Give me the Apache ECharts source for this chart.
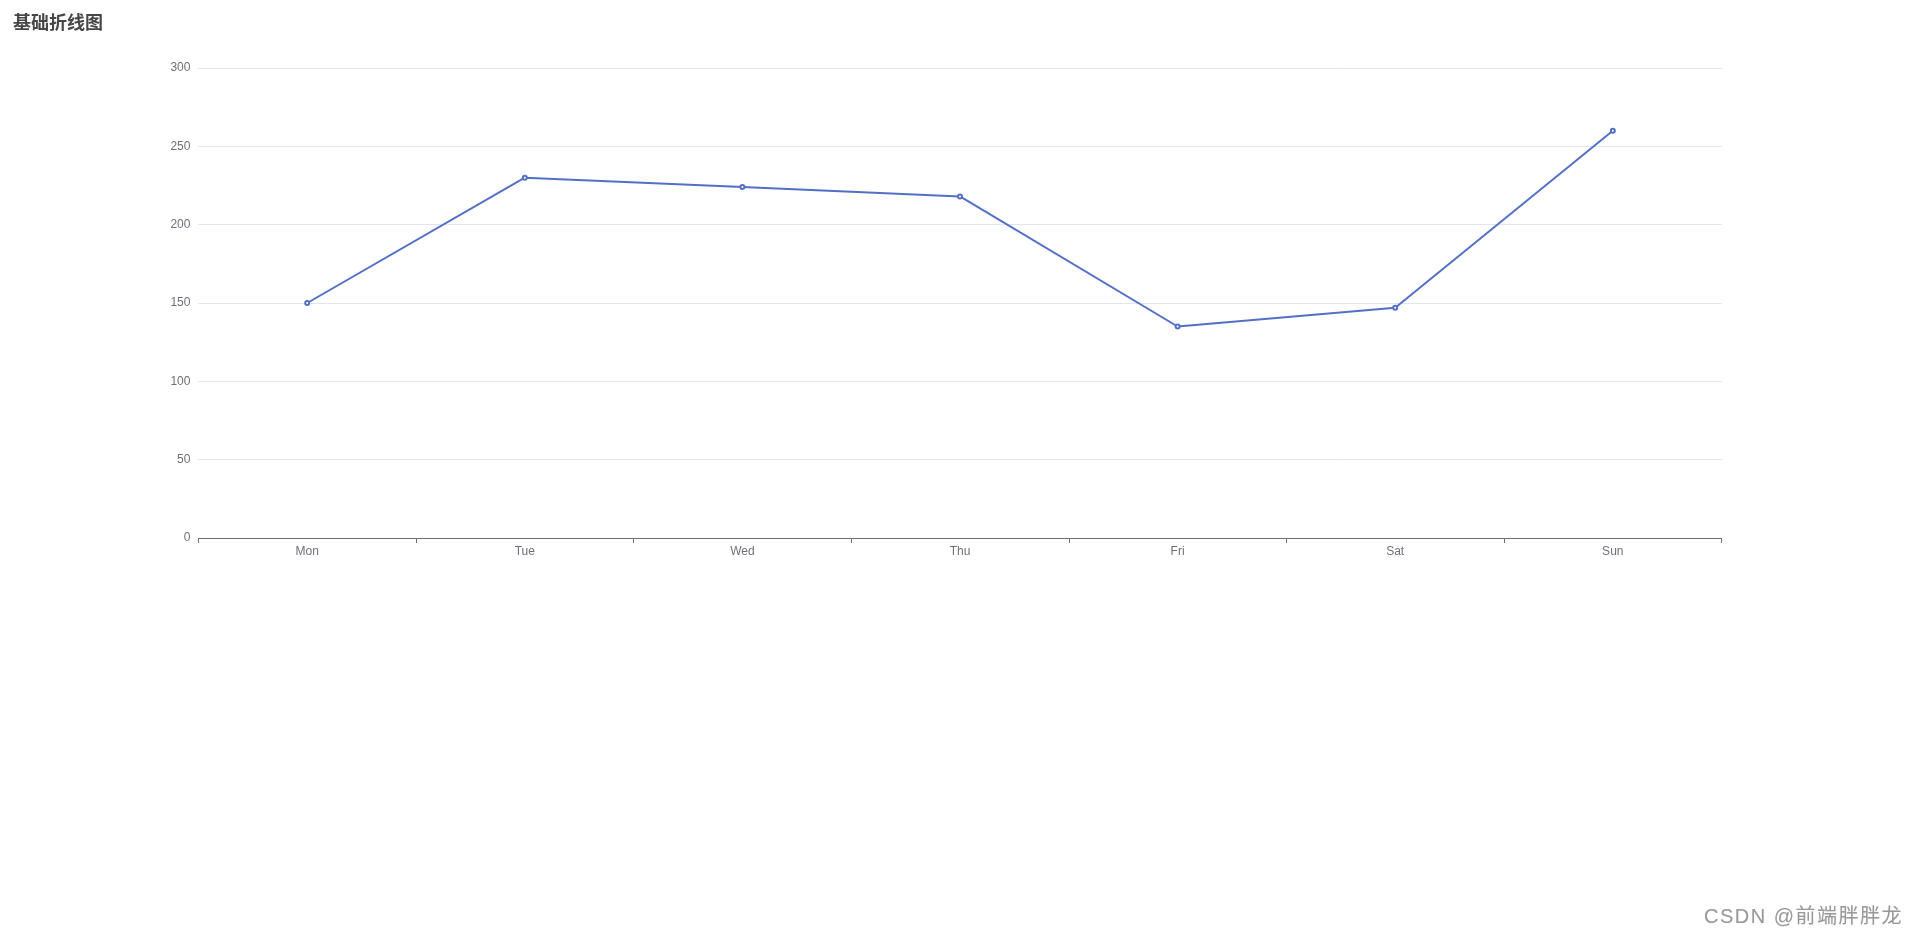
<!DOCTYPE html>
<html><head><meta charset="utf-8">
<script src="https://cdn.jsdelivr.net/npm/echarts@6/dist/echarts.min.js"></script>
<style>
html,body{margin:0;padding:0;background:#fff;}
body{margin:8px;}
#main{width:100%;height:600px;}
#wm{position:fixed;right:17px;bottom:8px;font-family:"Liberation Sans","Noto Sans CJK SC",sans-serif;font-size:20px;letter-spacing:1.5px;color:#9a9a9a;text-shadow:0 0 1px #ddd;}
</style></head>
<body>
<div id="main"></div>
<div id="wm">CSDN @前端胖胖龙</div>
<script>
const titleText = '基础折线图';
const categories = ['Mon', 'Tue', 'Wed', 'Thu', 'Fri', 'Sat', 'Sun'];
const values = [150, 230, 224, 218, 135, 147, 260];

const chart = echarts.init(document.getElementById('main'));
chart.setOption({
  animation: false,
  title: {
    text: titleText,
    left: 0, top: 0, padding: 5,
    textStyle: { fontSize: 18, fontWeight: 'bold', color: '#464646', fontFamily: '"Noto Sans CJK SC", sans-serif' }
  },
  grid: { left: '10%', right: '10%', top: 60, bottom: 70, containLabel: false },
  xAxis: {
    type: 'category',
    data: categories,
    boundaryGap: true,
    axisLine: { lineStyle: { color: '#6E7079' } },
    axisTick: { show: true, alignWithLabel: false, length: 5, lineStyle: { color: '#6E7079' } },
    axisLabel: { color: '#6E7079', fontSize: 12, margin: 8 }
  },
  yAxis: {
    type: 'value',
    min: 0, max: 300, interval: 50,
    axisLabel: { color: '#6E7079', fontSize: 12, margin: 8 },
    splitLine: { lineStyle: { color: '#E0E6F1' } }
  },
  series: [{
    type: 'line',
    data: values,
    symbol: 'emptyCircle',
    symbolSize: 4,
    itemStyle: { color: '#5470c6' },
    lineStyle: { color: '#5470c6', width: 2 }
  }]
});
</script>
</body></html>
